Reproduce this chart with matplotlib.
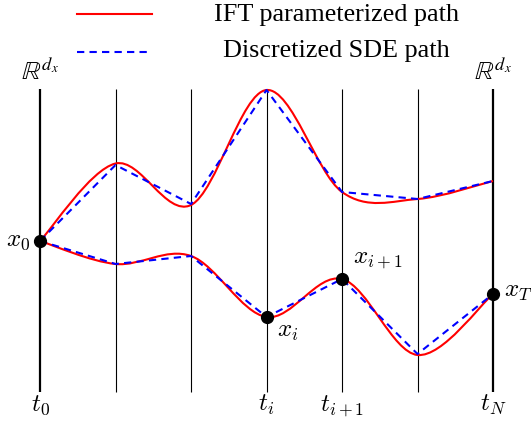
import numpy as np
import matplotlib
matplotlib.use("Agg")
import matplotlib.pyplot as plt
from matplotlib.path import Path
from matplotlib.patches import PathPatch

plt.rcParams['mathtext.fontset'] = 'cm'
plt.rcParams['font.family'] = ['Liberation Serif', 'DejaVu Serif']

# time grid (index of vertical slices)
t_grid = [0, 1, 2, 3, 4, 5, 6]
thick_lines = [0, 6]

# state values on each slice
upper_sde = [0.0, 1.52, 0.74, 3.02, 0.98, 0.84, 1.20]
lower_sde = [0.0, -0.46, -0.30, -1.52, -0.76, -2.26, -1.06]
upper_ift = [0.0, 1.55, 0.72, 3.02, 0.98, 0.84, 1.20]
lower_ift = [0.0, -0.46, -0.30, -1.52, -0.76, -2.28, -1.06]

# marked states (t, value)
marked = [(0, 0.0), (3, -1.52), (4, -0.76), (6, -1.06)]

time_labels = {0: r'$t_0$', 3: r'$t_i$', 4: r'$t_{i+1}$', 6: r'$t_N$'}

legend_labels = ['IFT parameterized path', 'Discretized SDE path']

W, H = 531, 423
fig = plt.figure(figsize=(W / 100, H / 100), dpi=100)
ax = fig.add_axes([0, 0, 1, 1])
ax.set_axis_off()
ax.set_xlim(-0.53, 6.503)
ax.set_ylim(-3.64, 4.82)

y_top, y_bot = 3.04, -3.02
for t in t_grid:
    lw = 1.6 if t in thick_lines else 0.8
    ax.plot([t, t], [y_bot, y_top], color='black', lw=lw, zorder=1,
            solid_capstyle='butt')


def smooth_path(xs, ys, k=1 / 6):
    pts = np.column_stack([xs, ys]).astype(float)
    n = len(pts)
    verts = [pts[0]]
    codes = [Path.MOVETO]
    for i in range(n - 1):
        p0 = pts[i - 1] if i > 0 else pts[i]
        p1 = pts[i]
        p2 = pts[i + 1]
        p3 = pts[i + 2] if i + 2 < n else pts[i + 1]
        c1 = p1 + (p2 - p0) * k
        c2 = p2 - (p3 - p1) * k
        verts += [c1, c2, p2]
        codes += [Path.CURVE4] * 3
    return Path(verts, codes)


red = '#ff0000'
blue = '#0000ff'
for ys in (upper_ift, lower_ift):
    ax.add_patch(PathPatch(smooth_path(t_grid, ys), facecolor='none',
                           edgecolor=red, lw=1.5, zorder=2))
for ys in (upper_sde, lower_sde):
    ax.plot(t_grid, ys, color=blue, lw=1.5, dashes=(3.5, 2.5), zorder=3)

for t, v in marked:
    ax.plot([t], [v], 'o', color='black', ms=8.5, zorder=5)

fs = 18
ax.text(-0.13, -0.10, r'$x_0$', ha='right', va='baseline', fontsize=fs)
ax.text(3.14, -1.92, r'$x_i$', ha='left', va='baseline', fontsize=fs)
ax.text(4.15, -0.44, r'$x_{i+1}$', ha='left', va='baseline', fontsize=fs)
ax.text(6.14, -1.12, r'$x_T$', ha='left', va='baseline', fontsize=fs)

for t in thick_lines:
    ax.text(t, 3.22, r'$\mathbb{R}^{d_x}$', ha='center', va='baseline',
            fontsize=fs + 1, math_fontfamily='stix')
for t, lab in time_labels.items():
    ax.text(t, -3.40, lab, ha='center', va='baseline', fontsize=fs)

# legend (manually laid out, centred text)
ax.plot([0.49, 1.48], [4.54, 4.54], color=red, lw=1.5)
ax.plot([0.49, 1.48], [3.78, 3.78], color=blue, lw=1.5, dashes=(3.5, 2.5))
ax.text(3.93, 4.40, legend_labels[0], ha='center', va='baseline', fontsize=18.8)
ax.text(3.93, 3.68, legend_labels[1], ha='center', va='baseline', fontsize=18.8)

fig.savefig('out.png', dpi=100)
